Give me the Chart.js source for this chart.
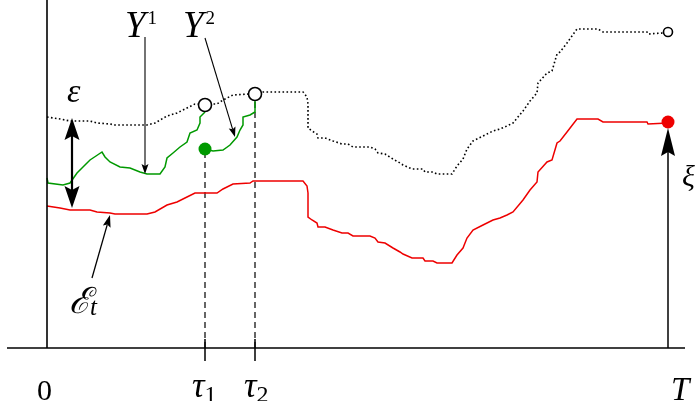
<!DOCTYPE html>
<html><head><meta charset="utf-8">
<script src="https://cdn.jsdelivr.net/npm/chart.js@4/dist/chart.umd.min.js"></script>
<style>html,body{margin:0;padding:0;background:#fff;overflow:hidden}canvas{display:block}</style>
</head><body>
<canvas id="c" width="698" height="401"></canvas>
<script>
// ---- data (x: time, y: level) ----
const T = 621;
const tau1 = 158;
const tau2 = 208;

// E_t (red)
const redX = [0,13,23,43,50,63,68,100,108,120,130,140,148,170,176,186,203,206,256,260,261,261,265,270,271,278,286,295,301,306,323,328,331,338,346,353,356,365,376,378,386,390,405,410,416,418,420,426,436,446,453,460,466,476,483,490,491,500,505,510,513,520,530,551,556,600,601,621];
const redY = [142,140,138,138,136,135,134,134,136,143,146,151,155,155,159,164,165,167,167,162,155,131,128,125,121,121,118,115,115,112,112,110,106,105,100,96,94,90,90,87,87,85,85,93,100,105,110,118,123,128,130,133,136,148,158,166,176,186,188,205,207,216,229,229,226,226,224,225];

// E_t + eps (dotted)
const dotX = [0,13,23,43,50,63,68,100,108,120,130,140,148,170,176,186,203,206,256,260,261,261,265,270,271,278,286,295,301,306,323,328,331,338,346,353,356,365,376,378,386,390,405,410,416,418,420,426,436,446,453,460,466,476,483,490,491,500,505,510,513,520,530,551,556,600,601,616];
const dotY = [231,229,227,227,225,224,223,223,225,232,235,240,244,244,248,253,254,256,256,251,244,220,217,214,210,210,207,204,204,201,201,199,195,194,189,185,183,179,179,176,176,174,174,182,189,194,199,207,212,217,219,222,225,237,247,255,265,275,277,294,296,305,319,319,316,316,314,315];

// Y^1 (green, up to tau1)
const y1X = [0,1,16,23,30,36,43,49,55,58,63,73,83,93,100,113,118,120,126,133,140,143,150,153,153,158];
const y1Y = [170,165,163,165,175,181,188,192,196,191,186,181,180,176,174,174,181,190,195,201,206,215,218,225,231,236];

// Y^2 (green, tau1 to tau2)
const y2X = [158,166,176,183,190,193,196,196,203,208,208];
const y2Y = [199,197,198,203,211,218,223,231,233,236,248];

// marked points
const openX = [tau1, tau2, T];
const openY = [243, 254, 316];
const greenDotX = [tau1];
const greenDotY = [199];
const xiX = [T];
const xiY = [226];

const pts = (xs, ys) => xs.map((x, i) => ({x, y: ys[i]}));

const lineDs = (data, color, width, extra) => Object.assign({
  type: 'line', data, borderColor: color, borderWidth: width, pointRadius: 0,
  fill: false, tension: 0, order: 5
}, extra || {});

const serif = '"Liberation Serif", serif';

function head(ctx, tx, ty, fx, fy, len, hw, ind) {
  const a = Math.atan2(ty - fy, tx - fx);
  ctx.save();
  ctx.translate(tx, ty);
  ctx.rotate(a);
  ctx.beginPath();
  ctx.moveTo(0, 0);
  ctx.lineTo(-len, -hw);
  ctx.lineTo(-len + ind, 0);
  ctx.lineTo(-len, hw);
  ctx.closePath();
  ctx.fill();
  ctx.restore();
}

function arrow(ctx, x0, y0, x1, y1, w, len, hw, ind, both) {
  const a = Math.atan2(y1 - y0, x1 - x0);
  const sx = both ? x0 + Math.cos(a) * (len - ind) : x0;
  const sy = both ? y0 + Math.sin(a) * (len - ind) : y0;
  const ex = x1 - Math.cos(a) * (len - ind);
  const ey = y1 - Math.sin(a) * (len - ind);
  ctx.lineWidth = w;
  ctx.beginPath(); ctx.moveTo(sx, sy); ctx.lineTo(ex, ey); ctx.stroke();
  head(ctx, x1, y1, x0, y0, len, hw, ind);
  if (both) head(ctx, x0, y0, x1, y1, len, hw, ind);
}

// arrows given in data coordinates
const arrowsCfg = [
  {from: [25, 230], to: [25, 140], w: 2.2, len: 22, hw: 7.5, ind: 4, both: true},   // eps
  {from: [T, 0], to: [T, 220], w: 1.5, len: 28, hw: 7, ind: 4},                      // xi
  {from: [98, 311], to: [98, 174], w: 1.1, len: 10, hw: 3.5, ind: 2},                // Y1
  {from: [158, 310], to: [188, 211], w: 1.1, len: 10, hw: 3.5, ind: 2},              // Y2
  {from: [45, 70], to: [63, 133], w: 1.3, len: 12, hw: 4, ind: 2}                    // E_t
];

const annot = {
  id: 'annot',
  afterDatasetsDraw(chart) {
    const {ctx, scales: {x, y}} = chart;
    ctx.save();
    ctx.fillStyle = '#000';
    ctx.strokeStyle = '#000';
    for (const a of arrowsCfg) {
      arrow(ctx, x.getPixelForValue(a.from[0]), y.getPixelForValue(a.from[1]),
                 x.getPixelForValue(a.to[0]), y.getPixelForValue(a.to[1]),
                 a.w, a.len, a.hw, a.ind, a.both);
    }
    ctx.textBaseline = 'alphabetic';
    ctx.textAlign = 'left';
    const font = (size, italic) => (italic ? 'italic ' : '') + size + 'px ' + serif;
    // base text with optional script (sub or sup)
    const sym = (s, px, py, size, italic, scr, scrSize, dy, gap, scrItalic) => {
      ctx.font = font(size, italic);
      ctx.fillText(s, px, py);
      const w = ctx.measureText(s).width;
      if (scr) {
        ctx.font = font(scrSize, !!scrItalic);
        ctx.fillText(scr, px + w + (gap || 0), py + dy);
      }
    };
    // tick labels
    const p0 = x.getPixelForValue(0), p1 = x.getPixelForValue(tau1), p2 = x.getPixelForValue(tau2), pT = x.getPixelForValue(T);
    ctx.font = font(30, false);
    ctx.fillText('0', p0 - 10, 400);
    sym('τ', p1 - 13, 397, 35, true, '1', 24, 5, 0);
    sym('τ', p2 - 11, 397, 35, true, '2', 24, 5, 0);
    sym('T', pT + 3, 400, 33, true);
    // curve labels
    sym('Y', 125, 37, 37, true, '1', 19, -13, 2);
    sym('Y', 183, 37, 37, true, '2', 19, -13, 2);
    sym('ε', 67, 102, 34, true);
    sym('ℰ', 69, 313, 36, true, 't', 25, 2, -1, true);
    sym('ξ', 682, 186, 30, true);
    ctx.restore();
  }
};

new Chart(document.getElementById('c'), {
  type: 'line',
  data: {
    datasets: [
      {type: 'scatter', data: pts(openX, openY), pointRadius: [6.5, 6.5, 4.5], pointBackgroundColor: '#fff',
       pointBorderColor: '#000', pointBorderWidth: 1.6, showLine: false, order: 0},
      {type: 'scatter', data: pts(greenDotX, greenDotY), pointRadius: 6.5, pointBackgroundColor: '#009900',
       pointBorderColor: '#009900', pointBorderWidth: 0, showLine: false, order: 0},
      {type: 'scatter', data: pts(xiX, xiY), pointRadius: 6.5, pointBackgroundColor: '#ee0000',
       pointBorderColor: '#ee0000', pointBorderWidth: 0, showLine: false, order: 0},
      lineDs(pts(redX, redY), '#ee0000', 1.5),
      lineDs(pts(dotX, dotY), '#000', 1.6, {borderDash: [1.6, 2.4]}),
      lineDs(pts(y1X, y1Y), '#009900', 1.5),
      lineDs(pts(y2X, y2Y), '#009900', 1.5),
      lineDs([{x: tau1, y: 0}, {x: tau1, y: greenDotY[0]}], '#000', 1.2, {borderDash: [6, 4], order: 6}),
      lineDs([{x: tau2, y: 0}, {x: tau2, y: openY[1]}], '#000', 1.2, {borderDash: [6, 4], order: 6}),
      lineDs([{x: tau1, y: 9}, {x: tau1, y: -13}], '#000', 1.5, {order: 4}),
      lineDs([{x: tau2, y: 9}, {x: tau2, y: -13}], '#000', 1.5, {order: 4}),
      lineDs([{x: -40, y: 0}, {x: 638, y: 0}], '#000', 1.6, {order: 4}),
      lineDs([{x: 0, y: 0}, {x: 0, y: 348}], '#000', 1.6, {order: 4})
    ]
  },
  options: {
    responsive: false,
    animation: false,
    events: [],
    layout: {padding: 0, autoPadding: false},
    plugins: {legend: {display: false}, tooltip: {enabled: false}},
    scales: {
      x: {type: 'linear', min: -47, max: 651, display: false},
      y: {type: 'linear', min: -53, max: 348, display: false}
    }
  },
  plugins: [annot]
});
</script>
</body></html>
